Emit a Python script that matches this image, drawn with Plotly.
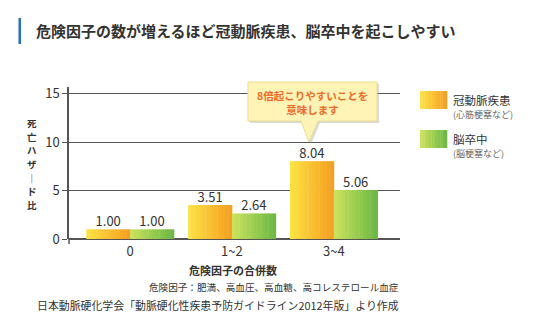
import plotly.graph_objects as go

categories = ["0", "1~2", "3~4"]
chd_values = [1.00, 3.51, 8.04]        # 冠動脈疾患
stroke_values = [1.00, 2.64, 5.06]     # 脳卒中
y_ticks = [0, 5, 10, 15]

FONT = "Noto Sans CJK JP"
W, H = 536, 322
ML, MR, MT, MB = 69, 136, 87, 83
PW, PH = W - ML - MR, H - MT - MB


def px(x):
    return (x - ML) / PW


def py(y):
    return (H - MB - y) / PH


def lerp(c1, c2, t):
    a = [int(c1[i:i + 2], 16) for i in (1, 3, 5)]
    b = [int(c2[i:i + 2], 16) for i in (1, 3, 5)]
    return "rgb(%d,%d,%d)" % tuple(round(a[k] + (b[k] - a[k]) * t) for k in range(3))


YEL = ("#fde445", "#f49d1f")
GRN = ("#cde35c", "#69b743")
BW = 0.43
N = 12

fig = go.Figure()
xs = list(range(len(categories)))
for vals, cols, start in ((chd_values, YEL, -BW), (stroke_values, GRN, 0.0)):
    for k in range(N):
        fig.add_trace(go.Bar(
            x=xs, y=vals, width=BW / N + 0.004, offset=start + k * BW / N,
            marker=dict(color=lerp(cols[0], cols[1], (k + 0.5) / N), line=dict(width=0)),
            showlegend=False, hoverinfo="skip"))
    fig.add_trace(go.Scatter(
        x=[i + start + BW / 2 for i in xs], y=vals, mode="text",
        text=["%.2f" % v for v in vals], textposition="top center",
        textfont=dict(family=FONT, size=13, color="#333333"),
        showlegend=False, hoverinfo="skip"))

shapes = []
annotations = []

# title
shapes.append(dict(type="rect", xref="paper", yref="paper", x0=px(18.5), x1=px(21), y0=py(44), y1=py(18),
                   fillcolor="#2170b8", line=dict(width=0), layer="above"))
annotations.append(dict(xref="paper", yref="paper", x=px(34), y=py(31), xanchor="left", yanchor="middle",
                        text="<b>危険因子の数が増えるほど冠動脈疾患、脳卒中を起こしやすい</b>", showarrow=False,
                        font=dict(family=FONT, size=15, color="#333333")))

# callout bubble shadow + body
def bubble(dx, dy):
    pts = [(248, 82), (377, 82), (377, 121), (318, 121), (309, 142), (301, 121), (248, 121)]
    return "M " + " L ".join("%f,%f" % (px(x + dx), py(y + dy)) for x, y in pts) + " Z"

shapes.append(dict(type="path", xref="paper", yref="paper", path=bubble(2, 2),
                   fillcolor="rgba(150,150,150,0.35)", line=dict(width=0), layer="above"))
shapes.append(dict(type="path", xref="paper", yref="paper", path=bubble(0, 0),
                   fillcolor="#fff4b5", line=dict(color="#ecdc90", width=1), layer="above"))
annotations.append(dict(xref="paper", yref="paper", x=px(312), y=py(102), xanchor="center", yanchor="middle",
                        text="<b>8倍起こりやすいことを<br>意味します</b>", showarrow=False,
                        font=dict(family=FONT, size=10.5, color="#ee6a2a")))

# legend
for (top, cols, name, sub) in ((91, YEL, "冠動脈疾患", "(心筋梗塞など)"), (130, GRN, "脳卒中", "(脳梗塞など)")):
    for k in range(N):
        x0 = 420 + 27 * k / N
        shapes.append(dict(type="rect", xref="paper", yref="paper", x0=px(x0), x1=px(x0 + 27 / N + 0.3),
                           y0=py(top + 18), y1=py(top), fillcolor=lerp(cols[0], cols[1], (k + 0.5) / N),
                           line=dict(width=0)))
    annotations.append(dict(xref="paper", yref="paper", x=px(452), y=py(top + 9.3), xanchor="left",
                            yanchor="middle", text=name, showarrow=False, borderpad=0,
                            font=dict(family=FONT, size=11.5, color="#333333")))
    annotations.append(dict(xref="paper", yref="paper", x=px(452), y=py(top + 23.5), xanchor="left",
                            yanchor="middle", text=sub, showarrow=False, borderpad=0,
                            font=dict(family=FONT, size=9, color="#666666")))

# vertical y-axis title, one character per line
for i, ch in enumerate(["死", "亡", "ハ", "ザ", "｜", "ド", "比"]):
    annotations.append(dict(xref="paper", yref="paper", x=px(32), y=py(164 + 13.6 * (i - 3)), xanchor="center",
                            yanchor="middle", text="<b>%s</b>" % ch, showarrow=False, borderpad=0,
                            font=dict(family=FONT, size=9.5, color="#333333")))

# x title and notes
annotations.append(dict(xref="paper", yref="paper", x=px(233), y=py(270), xanchor="center", yanchor="middle",
                        text="<b>危険因子の合併数</b>", showarrow=False,
                        font=dict(family=FONT, size=11, color="#333333")))
annotations.append(dict(xref="paper", yref="paper", x=px(401), y=py(287), xanchor="right", yanchor="middle",
                        text="危険因子：肥満、高血圧、高血糖、高コレステロール血症", showarrow=False,
                        font=dict(family=FONT, size=9.6, color="#333333")))
annotations.append(dict(xref="paper", yref="paper", x=px(401), y=py(305), xanchor="right", yanchor="middle",
                        text="日本動脈硬化学会「動脈硬化性疾患予防ガイドライン2012年版」より作成", showarrow=False,
                        font=dict(family=FONT, size=10.9, color="#333333")))

# small downward extension of y axis
shapes.append(dict(type="line", xref="paper", yref="paper", x0=0, x1=0, y0=py(239), y1=py(244),
                   line=dict(color="#555555", width=1.5)))

fig.update_layout(
    width=W, height=H, margin=dict(l=ML, r=MR, t=MT, b=MB),
    paper_bgcolor="white", plot_bgcolor="white",
    barmode="overlay", showlegend=False,
    shapes=shapes, annotations=annotations,
    font=dict(family=FONT, color="#333333"),
    xaxis=dict(range=[-0.6, 2.65], tickvals=xs, ticktext=categories, showgrid=False, zeroline=False,
               showline=False, ticks="", ticklabelstandoff=3,
               tickfont=dict(family=FONT, size=13, color="#333333")),
    yaxis=dict(range=[0, 15.7], tickvals=y_ticks, showgrid=True, gridcolor="#555555", gridwidth=1.2,
               zeroline=True, zerolinecolor="#555555", zerolinewidth=1.5,
               showline=True, linecolor="#555555", linewidth=1.5, ticks="outside", ticklen=5,
               tickcolor="#555555", tickwidth=1.2, tickfont=dict(family=FONT, size=13, color="#333333")),
)

fig.write_html("out.html")
